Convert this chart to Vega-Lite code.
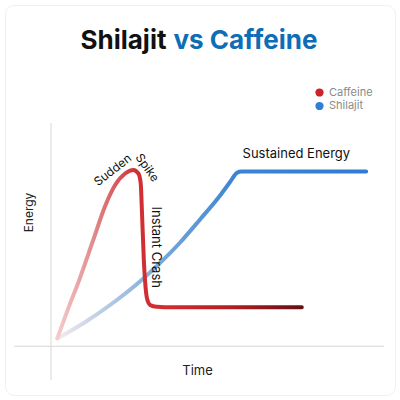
{
  "$schema": "https://vega.github.io/schema/vega-lite/v6.json",
  "description": "Shilajit vs Caffeine energy over time",
  "width": 390,
  "height": 390,
  "autosize": {"type": "none"},
  "padding": 5,
  "background": "white",
  "config": {
    "view": {"stroke": "#efefef", "cornerRadius": 9, "fill": "white"},
    "font": "Inter",
    "text": {"font": "Inter"}
  },
  "datasets": {
    "curves": [
      {"series": "Caffeine", "t": 0.16, "energy": 0.20},
      {"series": "Caffeine", "t": 0.49, "energy": 1.10},
      {"series": "Caffeine", "t": 0.66, "energy": 1.53},
      {"series": "Caffeine", "t": 1.08, "energy": 2.72},
      {"series": "Caffeine", "t": 1.38, "energy": 3.58},
      {"series": "Caffeine", "t": 1.64, "energy": 4.13},
      {"series": "Caffeine", "t": 1.90, "energy": 4.43},
      {"series": "Caffeine", "t": 2.11, "energy": 4.52},
      {"series": "Caffeine", "t": 2.24, "energy": 4.43},
      {"series": "Caffeine", "t": 2.30, "energy": 4.18},
      {"series": "Caffeine", "t": 2.33, "energy": 3.49},
      {"series": "Caffeine", "t": 2.38, "energy": 2.21},
      {"series": "Caffeine", "t": 2.44, "energy": 1.36},
      {"series": "Caffeine", "t": 2.47, "energy": 1.19},
      {"series": "Caffeine", "t": 2.54, "energy": 1.06},
      {"series": "Caffeine", "t": 2.71, "energy": 1.01},
      {"series": "Caffeine", "t": 2.92, "energy": 1.00},
      {"series": "Caffeine", "t": 6.43, "energy": 1.00},
      {"series": "Shilajit", "t": 0.16, "energy": 0.20},
      {"series": "Shilajit", "t": 0.83, "energy": 0.59},
      {"series": "Shilajit", "t": 1.68, "energy": 1.18},
      {"series": "Shilajit", "t": 2.28, "energy": 1.66},
      {"series": "Shilajit", "t": 2.79, "energy": 2.13},
      {"series": "Shilajit", "t": 3.31, "energy": 2.66},
      {"series": "Shilajit", "t": 3.82, "energy": 3.25},
      {"series": "Shilajit", "t": 4.33, "energy": 3.86},
      {"series": "Shilajit", "t": 4.59, "energy": 4.21},
      {"series": "Shilajit", "t": 4.77, "energy": 4.45},
      {"series": "Shilajit", "t": 4.88, "energy": 4.48},
      {"series": "Shilajit", "t": 8.08, "energy": 4.48}
    ],
    "notes": [
      {"label": "Shilajit", "t": 2.96, "energy": 7.61},
      {"label": "vs Caffeine", "t": 3.14, "energy": 7.61},
      {"label": "Sustained Energy", "t": 6.29, "energy": 4.83},
      {"label": "Instant Crash", "t": 2.69, "energy": 2.54},
      {"label": "Sudden", "t": 1.58, "energy": 4.52},
      {"label": "Spike", "t": 2.47, "energy": 4.58}
    ],
    "axislines": [
      {"t": 0, "t2": 0, "energy": -0.87, "energy2": 5.72},
      {"t": -0.95, "t2": 8.54, "energy": 0, "energy2": 0}
    ]
  },
  "encoding": {
    "x": {
      "field": "t",
      "type": "quantitative",
      "scale": {"domain": [-1.18, 8.82], "nice": false, "zero": false},
      "axis": {
        "title": "Time",
        "domain": false, "ticks": false, "labels": false, "grid": false,
        "titleFont": "Inter", "titleFontSize": 13, "titleFontWeight": "normal", "titleColor": "#222",
        "titleBaseline": "alphabetic", "titleY": -21, "titleX": 192
      }
    },
    "y": {
      "field": "energy",
      "type": "quantitative",
      "scale": {"domain": [-1.25, 8.75], "nice": false, "zero": false},
      "axis": {
        "title": "Energy",
        "domain": false, "ticks": false, "labels": false, "grid": false,
        "titleFont": "Inter", "titleFontSize": 12, "titleFontWeight": "normal", "titleColor": "#222",
        "titleAlign": "center", "titleBaseline": "alphabetic", "titleX": 27, "titleY": 207
      }
    }
  },
  "layer": [
    {
      "data": {"name": "axislines"},
      "mark": {"type": "rule", "color": "#d6d6d6", "strokeWidth": 1},
      "encoding": {
        "x2": {"field": "t2"},
        "y2": {"field": "energy2"}
      }
    },
    {
      "data": {"name": "curves"},
      "transform": [{"filter": "datum.series === 'Shilajit'"}],
      "mark": {
        "type": "line",
        "interpolate": "monotone",
        "strokeWidth": 4,
        "strokeCap": "round",
        "color": {
          "gradient": "linear",
          "x1": 0, "y1": 0, "x2": 1, "y2": 0,
          "stops": [
            {"offset": 0, "color": "#f6eaee"},
            {"offset": 0.15, "color": "#b9cde4"},
            {"offset": 0.32, "color": "#7eaad9"},
            {"offset": 0.58, "color": "#3b84d2"},
            {"offset": 1, "color": "#2e7dd2"}
          ]
        }
      }
    },
    {
      "data": {"name": "curves"},
      "transform": [{"filter": "datum.series === 'Caffeine'"}],
      "mark": {
        "type": "line",
        "interpolate": "monotone",
        "strokeWidth": 4,
        "strokeCap": "round",
        "color": {
          "gradient": "linear",
          "x1": 0, "y1": 0, "x2": 1, "y2": 0,
          "stops": [
            {"offset": 0, "color": "#f5cccc"},
            {"offset": 0.15, "color": "#e08a8c"},
            {"offset": 0.32, "color": "#cf3035"},
            {"offset": 0.45, "color": "#d62a2e"},
            {"offset": 0.7, "color": "#b41f24"},
            {"offset": 1, "color": "#661014"}
          ]
        }
      }
    },
    {
      "data": {"name": "curves"},
      "transform": [{"filter": "datum.t < 0.2"}],
      "mark": {"type": "point", "filled": true, "opacity": 0},
      "encoding": {
        "color": {
          "field": "series",
          "type": "nominal",
          "scale": {"domain": ["Caffeine", "Shilajit"], "range": ["#cc2229", "#2f7fd6"]},
          "legend": {
            "title": null,
            "orient": "none",
            "legendX": 309,
            "legendY": 82,
            "symbolType": "circle",
            "symbolSize": 68,
            "symbolOpacity": 1,
            "symbolStrokeWidth": 0,
            "labelFont": "Inter",
            "labelFontSize": 11,
            "labelColor": "#8a8a8a",
            "labelOffset": 4,
            "rowPadding": 1.5,
            "padding": 0
          }
        }
      }
    },
    {
      "data": {"name": "notes"},
      "transform": [{"filter": "datum.label === 'Shilajit'"}],
      "mark": {"type": "text", "align": "right", "baseline": "alphabetic", "fontSize": 26, "fontWeight": 700, "color": "#111111"},
      "encoding": {"text": {"field": "label"}}
    },
    {
      "data": {"name": "notes"},
      "transform": [{"filter": "datum.label === 'vs Caffeine'"}],
      "mark": {"type": "text", "align": "left", "baseline": "alphabetic", "fontSize": 26, "fontWeight": 700, "color": "#0d6db6"},
      "encoding": {"text": {"field": "label"}}
    },
    {
      "data": {"name": "notes"},
      "transform": [{"filter": "datum.label === 'Sustained Energy'"}],
      "mark": {"type": "text", "align": "center", "baseline": "alphabetic", "fontSize": 13, "color": "#111111"},
      "encoding": {"text": {"field": "label"}}
    },
    {
      "data": {"name": "notes"},
      "transform": [{"filter": "datum.label === 'Instant Crash'"}],
      "mark": {"type": "text", "align": "center", "baseline": "middle", "angle": 90, "fontSize": 13, "color": "#111111"},
      "encoding": {"text": {"field": "label"}}
    },
    {
      "data": {"name": "notes"},
      "transform": [{"filter": "datum.label === 'Sudden'"}],
      "mark": {"type": "text", "align": "center", "baseline": "middle", "angle": -38, "fontSize": 12, "color": "#111111"},
      "encoding": {"text": {"field": "label"}}
    },
    {
      "data": {"name": "notes"},
      "transform": [{"filter": "datum.label === 'Spike'"}],
      "mark": {"type": "text", "align": "center", "baseline": "middle", "angle": 55, "fontSize": 12, "color": "#111111"},
      "encoding": {"text": {"field": "label"}}
    }
  ]
}
